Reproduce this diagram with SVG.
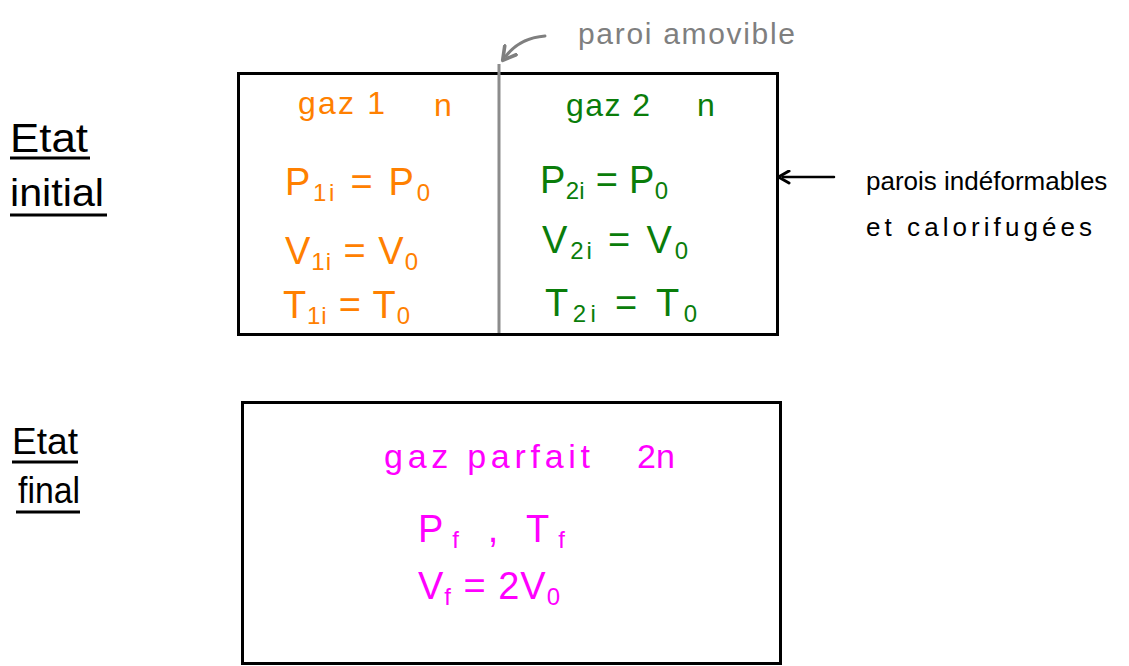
<svg xmlns="http://www.w3.org/2000/svg" width="1129" height="666" viewBox="0 0 1129 666">
<style>
text{font-family:"Liberation Sans",Arial,sans-serif}
.box{fill:none;stroke:#000;stroke-width:3}
.ink{fill:#000;font-size:30px}
.gray{fill:#7f7f7f;font-size:30px}
.or{fill:#ff8000;font-size:38px}
.gr{fill:#0a7d0a;font-size:38px}
.mg{fill:#ff00ff;font-size:38px}
.ul{stroke:#000;stroke-width:3;fill:none}
.sub{font-size:24px}
</style>
<defs>
<marker id="ahg" viewBox="0 0 10 10" refX="5" refY="5" markerWidth="6" markerHeight="6" orient="auto"><path d="M1,1 L8,5 L1,9" fill="none" stroke="#7f7f7f" stroke-width="2" stroke-linecap="round" stroke-linejoin="round"/></marker>
<marker id="ahk" viewBox="0 0 10 10" refX="5" refY="5" markerWidth="6" markerHeight="6" orient="auto"><path d="M1,1 L8,5 L1,9" fill="none" stroke="#000" stroke-width="2" stroke-linecap="round" stroke-linejoin="round"/></marker>
</defs>
<g id="label-initial">
<text class="ink" x="10" y="152" style="font-size:40px" textLength="78" lengthAdjust="spacingAndGlyphs">Etat</text>
<line class="ul" x1="10" y1="158" x2="90" y2="158"/>
<text class="ink" x="10" y="206" style="font-size:38px" textLength="94" lengthAdjust="spacingAndGlyphs">initial</text>
<line class="ul" x1="10" y1="215" x2="107" y2="215"/>
</g>
<g id="label-final">
<text class="ink" x="12" y="454" style="font-size:36px" textLength="66" lengthAdjust="spacingAndGlyphs">Etat</text>
<line class="ul" x1="12" y1="462" x2="78" y2="462"/>
<text class="ink" x="18" y="503" style="font-size:36px" textLength="62" lengthAdjust="spacingAndGlyphs">final</text>
<line class="ul" x1="16" y1="512" x2="80" y2="512"/>
</g>
<g id="box-initial">
<rect class="box" x="238.5" y="73.5" width="539" height="261"/>
</g>
<g id="gaz1">
<text class="or" x="298" y="114" style="font-size:32px" textLength="87">gaz 1</text>
<text class="or" x="434" y="116" style="font-size:32px">n</text>
<text class="or" x="285" y="195" textLength="145">P<tspan class="sub" dy="6">1i</tspan><tspan dy="-6"> = P</tspan><tspan class="sub" dy="6">0</tspan></text>
<text class="or" x="285" y="264" textLength="133">V<tspan class="sub" dy="6">1i</tspan><tspan dy="-6"> = V</tspan><tspan class="sub" dy="6">0</tspan></text>
<text class="or" x="283" y="318" textLength="127">T<tspan class="sub" dy="6">1i</tspan><tspan dy="-6"> = T</tspan><tspan class="sub" dy="6">0</tspan></text>
</g>
<g id="gaz2">
<text class="gr" x="566" y="116" style="font-size:32px" textLength="84">gaz 2</text>
<text class="gr" x="697" y="116" style="font-size:32px">n</text>
<text class="gr" x="540" y="193" textLength="128">P<tspan class="sub" dy="6">2i</tspan><tspan dy="-6"> = P</tspan><tspan class="sub" dy="6">0</tspan></text>
<text class="gr" x="542" y="253" textLength="146">V<tspan class="sub" dy="6">2i</tspan><tspan dy="-6"> = V</tspan><tspan class="sub" dy="6">0</tspan></text>
<text class="gr" x="545" y="316" textLength="152">T<tspan class="sub" dy="6">2i</tspan><tspan dy="-6"> = T</tspan><tspan class="sub" dy="6">0</tspan></text>
</g>
<g id="paroi">
<line x1="499" y1="64" x2="499" y2="333" stroke="#8c8c8c" stroke-width="3"/>
<text class="gray" x="578" y="44" textLength="217">paroi amovible</text>
</g>
<g id="parois-label">
<text class="ink" x="866" y="190" style="font-size:26px">parois indéformables</text>
<text class="ink" x="866" y="236" style="font-size:26px" textLength="226">et calorifugées</text>
</g>
<g id="box-final">
<rect class="box" x="242.5" y="402.5" width="538" height="261"/>
<text class="mg" x="384" y="468" style="font-size:34px" textLength="206">gaz parfait</text>
<text class="mg" x="637" y="468" style="font-size:34px">2n</text>
<text class="mg" x="418" y="542" textLength="147">P<tspan class="sub" dy="6">f</tspan><tspan dy="-6">  ,  T</tspan><tspan class="sub" dy="6">f</tspan></text>
<text class="mg" x="418" y="599" textLength="142">V<tspan class="sub" dy="6">f</tspan><tspan dy="-6"> = 2V</tspan><tspan class="sub" dy="6">0</tspan></text>
</g>
<g id="connectors">
<path d="M545,36 Q520,38 506,56" fill="none" stroke="#7f7f7f" stroke-width="3" stroke-linecap="round" marker-end="url(#ahg)"/>
<path d="M834,177 L783,177" fill="none" stroke="#000" stroke-width="2.5" stroke-linecap="round" marker-end="url(#ahk)"/>
</g>
</svg>
